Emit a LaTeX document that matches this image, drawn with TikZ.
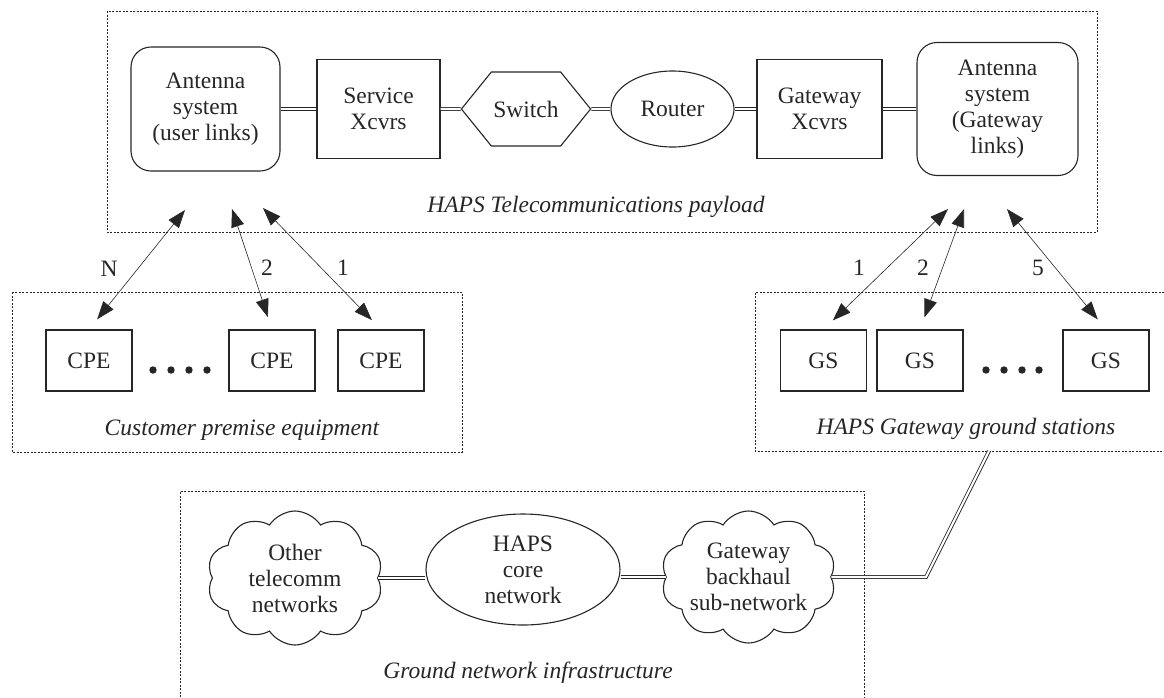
\documentclass[tikz,border=0pt]{standalone}
\usepackage{fontspec}
\setmainfont{Liberation Serif}
\usepackage{tikz}
\usetikzlibrary{arrows.meta}
\usetikzlibrary{shapes.geometric,shapes.symbols}

\definecolor{ink}{HTML}{262626}

\tikzset{
  unit/.style={draw=ink, line width=1.1pt, align=center, inner sep=2pt,
    text=ink},
  box/.style={unit, rectangle, minimum width=#1, minimum height=99},
  antbox/.style={unit, rectangle, rounded corners=20pt},
  grp/.style={draw=ink, line width=0.5pt, dash pattern=on 2pt off 1.5pt},
  link/.style={draw=ink, line width=0.8pt, double=white, double distance=2.2pt},
  radio/.style={draw=ink, line width=0.6pt,
    {Triangle[length=18pt,width=13pt]}-{Triangle[length=18pt,width=13pt]},
    shorten >=13pt},
  caption/.style={text=ink, font=\itshape},
}

\begin{document}
\fontsize{23.5}{26}\selectfont
\begin{tikzpicture}[x=1pt,y=-1pt]
      \useasboundingbox (0,0) rectangle (1164,697);

      % group frames
      \draw[grp] (107,11) rectangle (1097,232);
      \draw[grp] (12,292) rectangle (462,452);
      \draw[grp] (1164,292) -- (755,292) -- (755,451) -- (1164,451);
      \draw[grp] (180,697) -- (180,491) -- (864,491) -- (864,697);

      % payload chain
      \node[antbox, minimum width=149, minimum height=124] (antU) at (205.5,109)
        {Antenna\\system\\(user links)};
      \node[box=123] (svc) at (378.5,109) {Service\\Xcvrs};
      \node[unit, signal, signal to=west and east, signal pointer angle=102,
        minimum width=122, minimum height=74] (sw) at (526,109) {Switch};
      \node[unit, ellipse, minimum width=123, minimum height=76] (rtr) at (672.5,109) {Router};
      \node[box=125] (gwx) at (819.5,109) {Gateway\\Xcvrs};
      \node[antbox, minimum width=161, minimum height=133] (antG) at (997.5,109)
        {Antenna\\system\\(Gateway\\links)};
      \draw[link] (antU) -- (svc);
      \draw[link] (svc) -- (sw);
      \draw[link] (sw) -- (rtr);
      \draw[link] (rtr) -- (gwx);
      \draw[link] (gwx) -- (antG);
      \node[caption] (payload) at (596,207) {HAPS Telecommunications payload};

      % user terminals
      \node[box=86, minimum height=61] (cpeN) at (89,360.5) {CPE};
      \node[box=86, minimum height=61] (cpe2) at (272,360.5) {CPE};
      \node[box=86, minimum height=61] (cpe1) at (381,360.5) {CPE};
      \foreach \x in {153,171,189,207}
        \fill[ink] (\x,370) circle (3.7);
      \node[caption] (cpelab) at (242,430) {Customer premise equipment};

      % gateway stations
      \node[box=86, minimum height=61] (gs1) at (823.5,360.5) {GS};
      \node[box=86, minimum height=61] (gs2) at (920,360.5) {GS};
      \node[box=86, minimum height=61] (gs5) at (1106,360.5) {GS};
      \foreach \x in {986,1004,1022,1039}
        \fill[ink] (\x,370) circle (3.7);
      \node[caption] (gslab) at (966,429) {HAPS Gateway ground stations};

      % radio links
      \coordinate (uN) at (185,210);
      \coordinate (u2) at (232,209);
      \coordinate (u1) at (263,208);
      \coordinate (g1) at (948,209);
      \coordinate (g2) at (964,209);
      \coordinate (g5) at (1007,209);
      \draw[radio] (uN) -- (cpeN.north);
      \draw[radio] (u2) -- (cpe2.north);
      \draw[radio] (u1) -- (cpe1.north);
      \draw[radio] (g1) -- (gs1.north);
      \draw[radio] (g2) -- (gs2.north);
      \draw[radio] (g5) -- (gs5.north);
      \node[text=ink] (nN) at (109,269) {N};
      \node[text=ink] (n2) at (267,268) {2};
      \node[text=ink] (n1) at (343,268) {1};
      \node[text=ink] (m1) at (859,268) {1};
      \node[text=ink] (m2) at (923,268) {2};
      \node[text=ink] (m5) at (1038,268) {5};

      % ground network
      \node[unit, cloud, cloud puffs=10, cloud puff arc=115, cloud ignores aspect,
        minimum width=176, minimum height=134, inner sep=0pt] (other) at (295,578)
        {Other\\telecomm\\networks};
      \node[unit, ellipse, minimum width=194, minimum height=111, inner sep=0pt] (core)
        at (523,569.5) {HAPS\\core\\network};
      \node[unit, cloud, cloud puffs=10, cloud puff arc=115, cloud ignores aspect,
        minimum width=175, minimum height=132, inner sep=0pt] (gwb) at (748.5,577)
        {Gateway\\backhaul\\sub-network};
      \draw[link] (other.east) -- (other.east -| core.west);
      \draw[link] (core.east |- gwb.west) -- (gwb.west);
      \coordinate (gsdrop) at (989,451);
      \coordinate (bend) at (926,577);
      \draw[link] (gsdrop) -- (bend) -- (gwb.east);
      \node[caption] (gndlab) at (528,673) {Ground network infrastructure};
\end{tikzpicture}
\end{document}
